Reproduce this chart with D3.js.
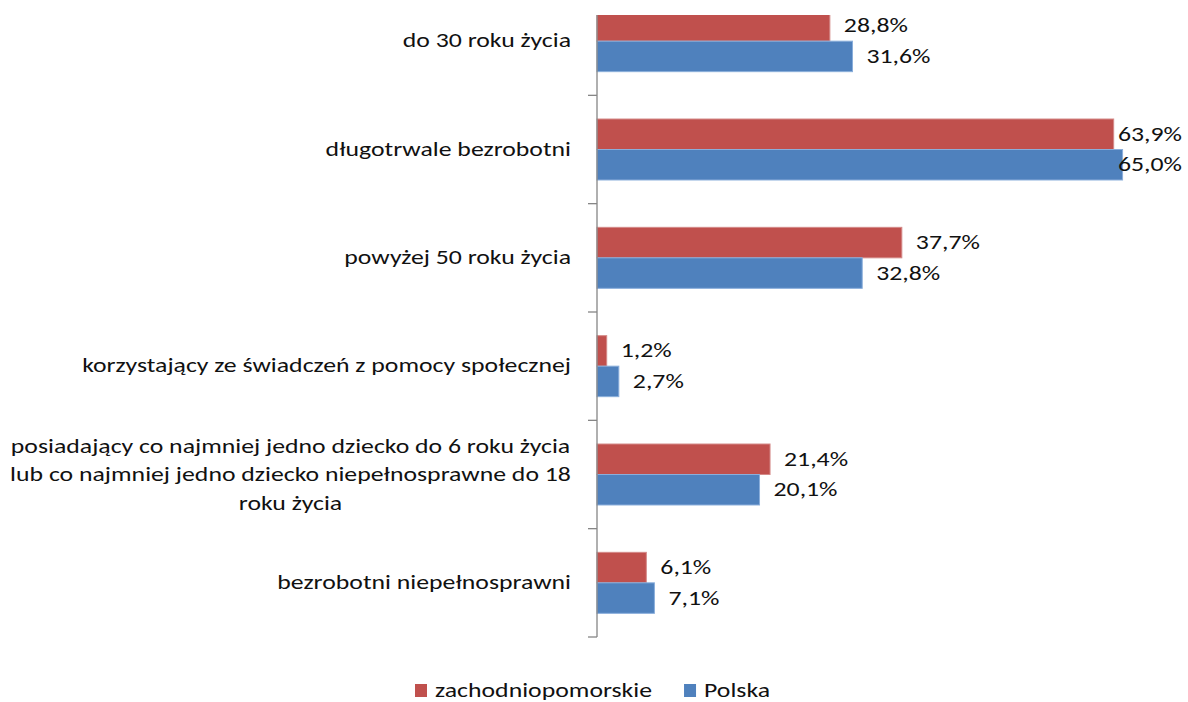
<!DOCTYPE html>
<html>
<head>
<meta charset="utf-8">
<script src="https://cdn.jsdelivr.net/npm/d3@7"></script>
<style>
	html, body { margin: 0; padding: 0; background: #fff; }
	text { font-family: Carlito, Calibri, Lato, sans-serif; fill: #111; }
</style>
</head>
<body>
<div id="js_chart"></div>
<script>
/*globals d3*/
var categories = [
	'do 30 roku życia',
	'długotrwale bezrobotni',
	'powyżej 50 roku życia',
	'korzystający ze świadczeń z pomocy społecznej',
	'posiadający co najmniej jedno dziecko do 6 roku życia\nlub co najmniej jedno dziecko niepełnosprawne do 18\nroku życia',
	'bezrobotni niepełnosprawni'
];
var seriesNames = ['zachodniopomorskie', 'Polska'];
var zachodniopomorskieValues = [28.8, 63.9, 37.7, 1.2, 21.4, 6.1];
var polskaValues = [31.6, 65.0, 32.8, 2.7, 20.1, 7.1];

(function () {
	'use strict';
	const width = 1188;
	const height = 702;
	const colorRed = '#C0504D';
	const colorBlue = '#4F81BD';
	const axisColor = '#868686';
	const axisX = 597;
	const labelRight = 571;
	const labelLeft = 10;
	const fontSize = 21;

	let seriesValues = [zachodniopomorskieValues, polskaValues];
	let seriesColors = [colorRed, colorBlue];
	let seriesStrokes = ['#d48a88', '#8aaedb'];

	let svg = d3.select('#js_chart').append('svg')
		.attr('width', width)
		.attr('height', height);

	// the source picture is stretched sideways; find that stretch from the longest label line
	let allLines = categories.join('\n').split('\n');
	let probe = svg.append('text').style('font-size', fontSize + 'px');
	let longest = 0;
	allLines.forEach(function (s) {
		probe.text(s);
		longest = Math.max(longest, probe.node().getComputedTextLength());
	});
	probe.remove();
	const sx = (labelRight - labelLeft) / longest;

	function addText(parent, str, x, y, anchor) {
		return parent.append('text')
			.text(str)
			.style('font-size', fontSize + 'px')
			.style('text-anchor', anchor || 'start')
			.attr('transform', 'translate(' + x + ',' + y + ') scale(' + sx + ',1)');
	}
	function textWidth(t) {
		return t.node().getComputedTextLength() * sx;
	}

	// plot is cut at the top, like in the source picture
	svg.append('defs').append('clipPath')
		.attr('id', 'plotClip')
		.append('rect')
		.attr('x', 0).attr('y', 15)
		.attr('width', width).attr('height', height - 15);

	let x = d3.scaleLinear().domain([0, 70]).range([axisX, axisX + 566]);
	let y = d3.scaleBand().domain(d3.range(categories.length))
		.range([-13, 637]).paddingInner(0.437).paddingOuter(0.437 / 2);
	let ySeries = d3.scaleBand().domain(d3.range(seriesNames.length))
		.range([0, y.bandwidth()]);

	let plot = svg.append('g').attr('clip-path', 'url(#plotClip)');

	// bars
	let groups = plot.selectAll('.barGroup')
		.data(categories).enter().append('g')
		.classed('barGroup', true)
		.attr('transform', function (d, i) { return 'translate(0,' + y(i) + ')'; });

	seriesNames.forEach(function (name, s) {
		groups.append('rect')
			.attr('x', x(0))
			.attr('y', ySeries(s))
			.attr('width', function (d, i) { return x(seriesValues[s][i]) - x(0); })
			.attr('height', ySeries.bandwidth())
			.style('fill', seriesColors[s])
			.style('stroke', seriesStrokes[s])
			.style('stroke-width', 1);
	});

	// value labels
	groups.each(function (d, i) {
		let g = d3.select(this);
		seriesNames.forEach(function (name, s) {
			let v = seriesValues[s][i];
			let t = addText(g, v.toFixed(1).replace('.', ',') + '%', 0, 0);
			let w = textWidth(t);
			let tx = Math.min(x(v) + 14, width - 6 - w);
			t.attr('transform', 'translate(' + tx + ',' + (ySeries(s) + ySeries.bandwidth() / 2 + 6.5) + ') scale(' + sx + ',1)');
		});
	});

	// vertical category axis with ticks between categories
	let boundaries = d3.range(categories.length + 1).map(function (i) {
		return i < categories.length ? y(i) - y.step() * y.paddingInner() / 2 : y(i - 1) + y.bandwidth() + y.step() * y.paddingInner() / 2;
	});
	plot.append('line')
		.attr('x1', axisX).attr('x2', axisX)
		.attr('y1', boundaries[0]).attr('y2', boundaries[boundaries.length - 1])
		.style('stroke', axisColor).style('stroke-width', 1.3);
	plot.selectAll('.tick')
		.data(boundaries).enter().append('line')
		.attr('x1', axisX - 9).attr('x2', axisX)
		.attr('y1', function (d) { return d; }).attr('y2', function (d) { return d; })
		.style('stroke', axisColor).style('stroke-width', 1.3);

	// category labels
	categories.forEach(function (cat, i) {
		let lines = cat.split('\n');
		let cy = y(i) + y.bandwidth() / 2;
		let lineHt = 28.5;
		let g = svg.append('g');
		if (lines.length === 1) {
			addText(g, lines[0], labelRight, cy + 6, 'end');
		} else {
			lines.forEach(function (line, k) {
				addText(g, line, (labelLeft + labelRight) / 2, cy + 6.5 + (k - (lines.length - 1) / 2) * lineHt, 'middle');
			});
		}
	});

	// legend
	let legend = svg.append('g');
	let legendX = 415;
	seriesNames.forEach(function (name, s) {
		legend.append('rect')
			.attr('x', legendX).attr('y', 684)
			.attr('width', 12).attr('height', 13)
			.style('fill', seriesColors[s]);
		let t = addText(legend, name, legendX + 20, 697);
		legendX += 20 + textWidth(t) + 32;
	});
})();
</script>
</body>
</html>
